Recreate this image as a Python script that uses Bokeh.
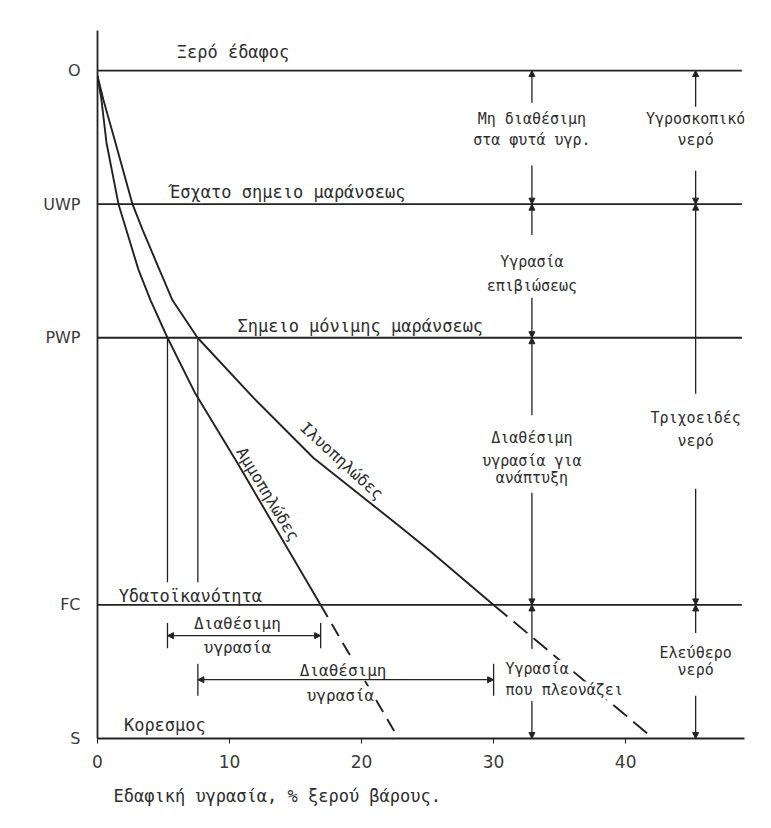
from bokeh.plotting import figure
from bokeh.models import Range1d, FixedTicker, Arrow, NormalHead, Title
from bokeh.core.properties import value
from bokeh.embed import file_html
from bokeh.resources import INLINE

# ---------------- data ----------------
level_values = [0, 1, 3, 4, 5]
level_names = ["S", "FC", "PWP", "UWP", "O"]
x_ticks = [0, 10, 20, 30, 40]

# Αμμοπηλώδες (sandy loam) curve, soil moisture % vs level
ammo_x = [0.0, 0.30, 0.68, 1.59, 3.10, 4.02, 5.30, 7.42, 10.61, 16.9]
ammo_y = [4.96, 4.78, 4.46, 4.00, 3.51, 3.28, 3.00, 2.58, 2.06, 1.00]
ammo_sat_x = 22.8   # dashed extension down to saturation

# Ιλυοπηλώδες (silty clay loam) curve
ilyo_x = [0.0, 0.45, 1.36, 2.65, 3.41, 4.60, 5.68, 7.58, 11.82, 16.36, 22.73, 25.23, 30.0]
ilyo_y = [4.96, 4.78, 4.46, 4.00, 3.81, 3.53, 3.28, 3.00, 2.55, 2.10, 1.60, 1.40, 1.00]
ilyo_sat_x = 42.1

ammo_pwp_x = 5.3
ilyo_pwp_x = 7.6
col_x = [32.9, 45.3]

LINE = "#222222"
TXT = "#2e2e2e"
FONT = value("DejaVu Sans Mono")

p = figure(frame_width=647, frame_height=708,
           x_range=Range1d(0, 49), y_range=Range1d(0, 5.3),
           output_backend="svg", toolbar_location=None,
           min_border_left=97, min_border_right=12,
           min_border_top=30, min_border_bottom=72)
p.outline_line_color = None
p.grid.visible = False
p.background_fill_color = "white"
p.border_fill_color = "white"

# axes
p.xaxis.ticker = FixedTicker(ticks=x_ticks)
p.xaxis.major_tick_out = 5
p.xaxis.major_tick_in = 0
p.xaxis.minor_tick_line_color = None
p.xaxis.major_label_standoff = 11
p.xaxis.major_label_text_font = "DejaVu Sans"
p.xaxis.major_label_text_font_size = "17px"
p.xaxis.major_label_text_color = "#3a3a3a"
p.xaxis.major_tick_line_color = LINE

p.yaxis.ticker = FixedTicker(ticks=level_values)
p.yaxis.major_label_overrides = {float(v): n for v, n in zip(level_values, level_names)}
p.yaxis.major_tick_line_color = None
p.yaxis.major_tick_out = 0
p.yaxis.major_tick_in = 0
p.yaxis.minor_tick_line_color = None
p.yaxis.major_label_standoff = 17
p.yaxis.major_label_text_font = "DejaVu Sans"
p.yaxis.major_label_text_font_size = "16px"
p.yaxis.major_label_text_color = "#3a3a3a"
for ax in (p.xaxis[0], p.yaxis[0]):
    ax.axis_line_color = LINE
    ax.axis_line_width = 1.8

# horizontal level lines
for lv in level_values[1:]:
    p.line([0, 48.8], [lv, lv], line_color=LINE, line_width=1.8)

# curves
p.line(ammo_x, ammo_y, line_color=LINE, line_width=1.9)
p.line(ilyo_x, ilyo_y, line_color=LINE, line_width=1.9)
p.line([ammo_x[-1], ammo_sat_x], [ammo_y[-1], 0], line_color=LINE, line_width=1.9,
       line_dash="14 8")
p.line([ilyo_x[-1], ilyo_sat_x], [ilyo_y[-1], 0], line_color=LINE, line_width=1.9,
       line_dash="18 8")

# verticals from PWP intersections
for vx in (ammo_pwp_x, ilyo_pwp_x):
    p.line([vx, vx], [3, 1.17], line_color=LINE, line_width=1.3)

# brackets "Διαθέσιμη υγρασία"
def bracket(x0, x1, y, h):
    p.add_layout(Arrow(x_start=x0, y_start=y, x_end=x1, y_end=y,
                       start=NormalHead(size=6, fill_color=LINE, line_color=LINE),
                       end=NormalHead(size=6, fill_color=LINE, line_color=LINE),
                       line_color=LINE, line_width=1.3))
    p.segment([x0, x1], [y - h, y - h], [x0, x1], [y + h, y + h],
              line_color=LINE, line_width=1.3)

bracket(ammo_pwp_x, ammo_x[-1], 0.77, 0.095)
bracket(ilyo_pwp_x, ilyo_x[-1], 0.44, 0.12)

# arrow columns (start level -> arrow end level)
col_segments = [
    [(4.76, 5), (4.29, 4), (3.77, 4), (3.30, 3), (2.42, 3), (1.84, 1), (0.67, 1), (0.28, 0)],
    [(4.73, 5), (4.25, 4), (2.58, 4), (1.87, 1), (0.79, 1), (0.32, 0)],
]
for cx, segs in zip(col_x, col_segments):
    for ys, ye in segs:
        p.add_layout(Arrow(x_start=cx, y_start=ys, x_end=cx, y_end=ye,
                           end=NormalHead(size=6, fill_color=LINE, line_color=LINE),
                           line_color=LINE, line_width=1.3))

# level labels (left aligned)
lvl_txt = ["Ξερό έδαφος", "Έσχατο σημειο μαράνσεως", "Σημειο μόνιμης μαράνσεως",
           "Υδατοϊκανότητα", "Κορεσμος"]
lvl_pos = [(6.0, 5.14), (5.5, 4.09), (10.6, 3.09), (1.6, 1.07), (2.0, 0.10)]
p.text(x=[q[0] for q in lvl_pos], y=[q[1] for q in lvl_pos], text=lvl_txt,
       text_font=FONT, text_font_size="17px", text_color=TXT,
       text_align="left", text_baseline="middle")

# bracket labels (centered)
br_txt = ["Διαθέσιμη", "υγρασία", "Διαθέσιμη", "υγρασία"]
br_pos = [(10.6, 0.86), (10.6, 0.68), (18.6, 0.51), (18.4, 0.32)]
p.text(x=[q[0] for q in br_pos], y=[q[1] for q in br_pos], text=br_txt,
       text_font=FONT, text_font_size="16px", text_color=TXT,
       text_align="center", text_baseline="middle",
       background_fill_color="white")

# column labels
c1 = col_x[0]
c2 = col_x[1]
col_txt = ["Μη διαθέσιμη", "στα φυτά υγρ.", "Υγρασία", "επιβιώσεως",
           "Διαθέσιμη", "υγρασία για", "ανάπτυξη",
           "Υγροσκοπικό", "νερό", "Τριχοειδές", "νερό", "Ελεύθερο", "νερό"]
col_pos = [(c1, 4.64), (c1, 4.48), (c1, 3.57), (c1, 3.39),
           (c1, 2.25), (c1, 2.08), (c1, 1.95),
           (c2, 4.64), (c2, 4.48), (c2, 2.40), (c2, 2.23), (c2, 0.64), (c2, 0.51)]
p.text(x=[q[0] for q in col_pos], y=[q[1] for q in col_pos], text=col_txt,
       text_font=FONT, text_font_size="15px", text_color=TXT,
       text_align="center", text_baseline="middle")

# excess moisture label
p.text(x=[30.9, 30.9], y=[0.52, 0.36], text=["Υγρασία", "που πλεονάζει"],
       text_font=FONT, text_font_size="15px", text_color=TXT,
       text_align="left", text_baseline="middle",
       background_fill_color="white")

# curve labels
p.text(x=[18.5], y=[2.08], text=["Ιλυοπηλώδες"], angle=-0.74,
       text_font=FONT, text_font_size="16px", text_color=TXT,
       text_align="center", text_baseline="middle")
p.text(x=[12.9], y=[1.83], text=["Αμμοπηλώδες"], angle=-1.03,
       text_font=FONT, text_font_size="16px", text_color=TXT,
       text_align="center", text_baseline="middle")

# x axis title (left-aligned below the axis)
p.add_layout(Title(text="Εδαφική υγρασία, % ξερού βάρους.", align="left",
                   offset=16, standoff=26,
                   text_font="DejaVu Sans Mono", text_font_size="17px",
                   text_font_style="normal", text_color=TXT), "below")

open("out.html", "w").write(file_html(p, INLINE))
